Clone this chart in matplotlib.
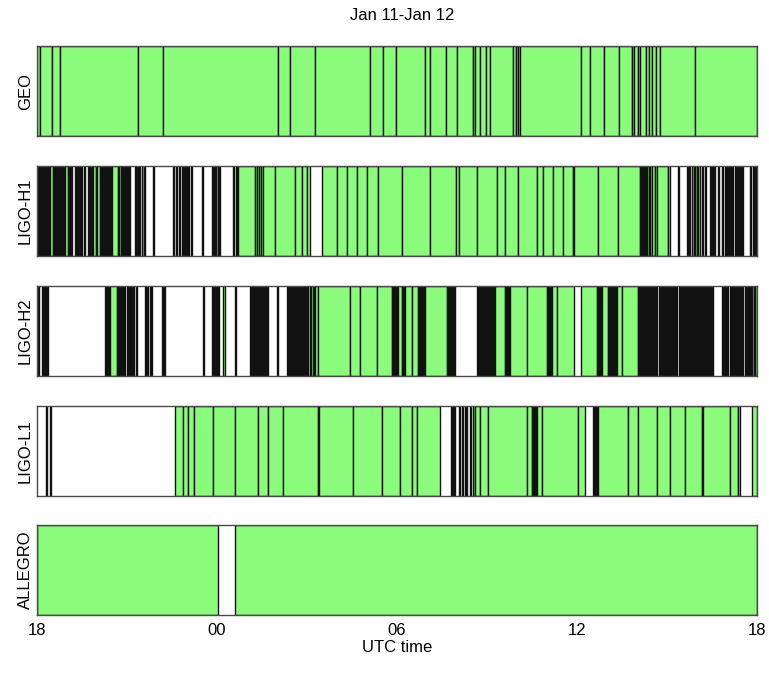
import matplotlib
matplotlib.use('Agg')
import matplotlib.pyplot as plt

plt.rcParams['font.family'] = ['Liberation Sans', 'DejaVu Sans']

detectors = ['GEO', 'LIGO-H1', 'LIGO-H2', 'LIGO-L1', 'ALLEGRO']

# minutes after 18:00 UTC (Jan 11); each run lists boundaries of back-to-back segments
geo_runs = [
    [0, 5, 29, 46, 201, 251, 481, 505, 556, 665, 691, 718, 775, 785, 817, 839,
     871, 875, 885, 898, 906, 952, 958, 962, 966, 1088, 1106, 1134, 1163, 1189,
     1193, 1202, 1206, 1217, 1223, 1229, 1238, 1246, 1316, 1440],
]

h1_runs = [
    [0, 2, 4, 6],
    [8, 10, 12, 14, 16, 18, 20, 22, 24, 26, 31, 33, 36, 38, 40, 42, 44, 46],
    [48, 50], [52, 54],
    [56, 62, 64, 66, 68, 70],
    [75, 77],
    [80, 82, 84, 86, 88, 90],
    [94, 96],
    [102, 104, 106, 108, 110, 112, 117, 120, 126, 128, 130, 132, 134, 136, 138, 140],
    [142, 144], [146, 148],
    [150, 162, 164, 167, 170, 172, 174, 176, 178, 180, 182, 184, 186],
    [196, 198, 200, 202, 204, 206],
    [210, 213], [214, 216],
    [231, 233],
    [272, 274], [278, 280], [283, 286],
    [290, 292, 294, 296, 298, 300],
    [302, 304], [307, 310],
    [329, 331],
    [350, 352, 354, 356, 358, 361, 363, 366],
    [392, 394], [397, 400],
    [402, 436, 440, 444, 448, 452, 476, 516, 530, 540, 546],
    [570, 600, 620, 640, 660, 682, 730, 786, 838, 844, 880, 920, 936, 962, 1000,
     1012, 1032, 1052, 1071, 1074, 1122, 1162, 1206, 1208, 1210, 1212, 1214, 1216,
     1218, 1220, 1224, 1226, 1230, 1236, 1240, 1262, 1266],
    [1281, 1284],
    [1300, 1302, 1304, 1306],
    [1310, 1313, 1316, 1319, 1322, 1326],
    [1330, 1332], [1335, 1338],
    [1346, 1348, 1350, 1352, 1354, 1356],
    [1362, 1364],
    [1370, 1372], [1375, 1377], [1379, 1380],
    [1382, 1384, 1386, 1388, 1390, 1392],
    [1396, 1398, 1400, 1402, 1404, 1406, 1408, 1410, 1412],
    [1426, 1428], [1431, 1434],
    [1436, 1438, 1440],
]

h2_runs = [
    [2, 4],
    [10, 12, 14, 16, 18, 20, 22],
    [136, 138], [140, 142],
    [144, 146, 160, 162, 164, 166, 168, 170, 172, 174, 176],
    [180, 182], [184, 186, 188, 190],
    [192, 194], [198, 200],
    [216, 218, 220, 222], [225, 227, 230],
    [250, 252], [254, 256],
    [331, 333],
    [350, 352, 354, 356, 358, 360],
    [362, 364],
    [372, 375],
    [395, 397],
    [426, 428, 430, 432, 434, 436, 438, 440, 442, 444, 446, 448, 450, 452, 454,
     456, 458, 460, 462],
    [480, 482],
    [500, 502, 504, 506, 508, 510, 512, 514, 516, 518, 520, 522, 524, 526, 528,
     530, 532, 534, 536, 538, 540],
    [542, 545], [548, 552],
    [554, 556, 562, 626, 646, 680, 710, 712, 714, 716, 718, 720, 722, 730, 732,
     734, 736, 750, 762, 764, 766, 768, 770, 772, 774, 776, 820, 822, 824, 826,
     828, 830, 832, 834, 836],
    [880, 882, 884, 886, 888, 890, 892, 894, 896, 898, 900, 902, 904, 906, 908,
     910, 912, 914, 916, 936, 938, 940, 942, 944, 946, 980, 1020, 1022, 1024,
     1026, 1028, 1030, 1040, 1074],
    [1088, 1120, 1122, 1124, 1126, 1128, 1130, 1142, 1144, 1146, 1148, 1150, 1152,
     1154, 1156, 1158, 1160, 1170, 1202, 1204, 1206, 1208, 1210, 1212, 1214,
     1216, 1218, 1220, 1222, 1224, 1226, 1228, 1230, 1232, 1234, 1236, 1238, 1240],
    [1244, 1246, 1248, 1250, 1252, 1254, 1256, 1258, 1260, 1262, 1264, 1266, 1268,
     1270, 1272, 1274, 1276, 1278, 1280],
    [1284, 1286, 1288, 1290, 1292, 1294, 1296, 1298, 1300, 1302, 1304, 1306, 1308,
     1310, 1312, 1314, 1316, 1318, 1320, 1322, 1324, 1326, 1328, 1330, 1332, 1334,
     1336, 1338, 1340, 1342, 1344, 1346, 1348, 1350, 1352],
    [1370, 1372, 1374, 1376, 1378, 1380, 1382],
    [1386, 1388, 1390, 1392, 1394, 1396, 1398, 1400, 1402, 1404, 1406, 1408, 1410, 1412],
    [1416, 1418, 1420, 1422, 1424, 1426, 1428, 1430, 1433, 1436, 1440],
]

l1_runs = [
    [17, 20], [25, 28],
    [276, 292, 302, 314, 352, 396, 442, 462, 492, 561, 564, 632, 690, 726, 750, 760, 806],
    [828, 830, 832, 834, 836],
    [844, 846], [850, 852], [856, 858, 860], [866, 868],
    [872, 876, 886, 902, 980, 990, 992, 994, 996, 998, 1000, 1010, 1082, 1096],
    [1112, 1114, 1116, 1118, 1120, 1122, 1182, 1202, 1240, 1266, 1296, 1329, 1331,
     1386, 1402, 1406],
    [1430, 1440],
]

allegro_runs = [
    [0, 362],
    [396, 1440],
]

all_runs = [geo_runs, h1_runs, h2_runs, l1_runs, allegro_runs]

tick_pos = [0, 360, 720, 1080, 1440]
tick_labels = ['18', '00', '06', '12', '18']

green = '#8afb7a'

fig = plt.figure(figsize=(7.69, 6.73), dpi=100)
W, H = 769.0, 673.0
# panel tops/bottoms in pixels
tops = [46, 166, 286, 406, 525]
bottoms = [136, 256, 376, 496, 615]

for i, (name, runs) in enumerate(zip(detectors, all_runs)):
    ax = fig.add_axes([37 / W, 1 - bottoms[i] / H, 720 / W, (bottoms[i] - tops[i]) / H])
    segs = []
    for run in runs:
        for a, b in zip(run[:-1], run[1:]):
            segs.append((a, b - a))
    ax.broken_barh(segs, (0, 1), facecolors=green, edgecolors='#111111', linewidth=1.0)
    ax.set_xlim(0, 1440)
    ax.set_ylim(0, 1)
    ax.set_yticks([])
    ax.set_ylabel(name, fontsize=12, labelpad=3)
    for s in ax.spines.values():
        s.set_color('#4a4a4a')
        s.set_linewidth(1.0)
    ax.set_xticks(tick_pos)
    ax.tick_params(axis='x', direction='in', length=0)
    if i == len(detectors) - 1:
        ax.set_xticklabels(tick_labels, fontsize=12)
        ax.tick_params(axis='x', pad=6)
        ax.set_xlabel('UTC time', fontsize=12, labelpad=1)
    else:
        ax.set_xticklabels([])

fig.text(0.5 + 18 / W, 1 - 15 / H, 'Jan 11-Jan 12', ha='center', va='center', fontsize=12)

plt.savefig('out.png', dpi=100)
